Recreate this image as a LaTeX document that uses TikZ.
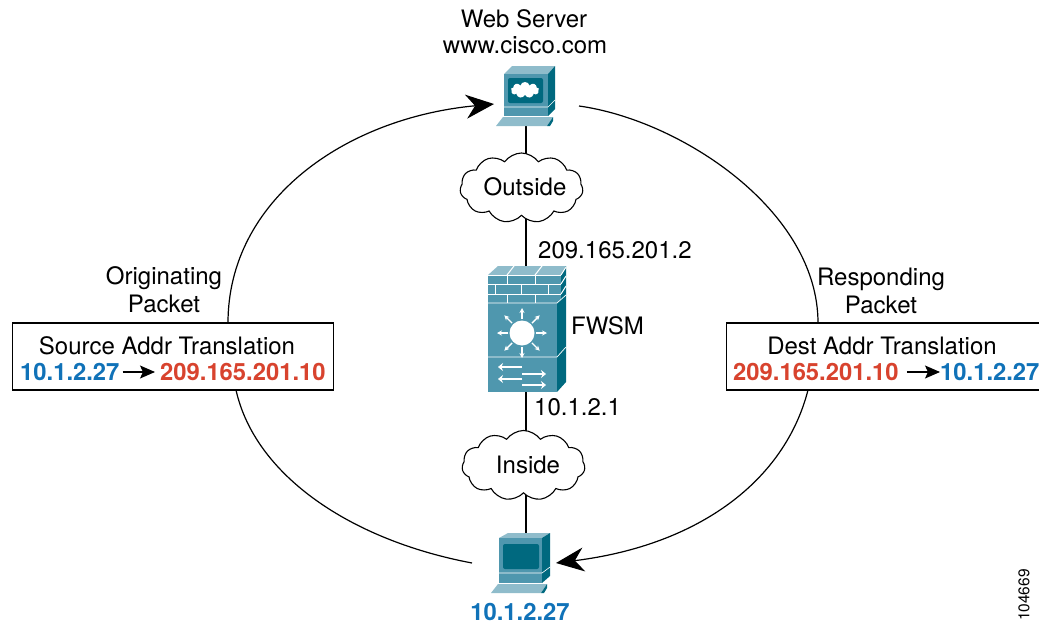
\documentclass[tikz,border=0pt]{standalone}
\usepackage{fontspec}
\setmainfont{TeX Gyre Heros}
\usetikzlibrary{arrows.meta,shapes.symbols}
\definecolor{addrblue}{HTML}{1072B8}
\definecolor{addrred}{HTML}{D8432E}
\definecolor{iconfront}{HTML}{4F97AE}
\definecolor{iconside}{HTML}{00697F}
\definecolor{icontop}{HTML}{8FBCCB}
\tikzset{
  lbl/.style={inner sep=0pt,font=\fontsize{24}{26}\selectfont},
  addr/.style={inner sep=0pt,font=\fontsize{23.8}{26}\selectfont\bfseries},
  netcloud/.style={cloud,cloud puffs=11,cloud puff arc=110,aspect=1.75,draw=black,fill=white,line width=1.1pt,inner sep=0pt,minimum width=123pt,minimum height=70pt},
  xlatebox/.style={draw=black,fill=white,line width=1.4pt,inner sep=0pt,minimum width=321pt,minimum height=67pt},
  wire/.style={line width=1.2pt},
  flow/.style={line width=1.2pt},
  flowhead/.style={line width=1.2pt,-{Stealth[length=28pt,width=24pt,inset=9pt]}},
  smallhead/.style={line width=1.1pt,-{Stealth[length=15pt,width=13pt,inset=3pt]}},
  hold/.style={inner sep=0pt,minimum width=60pt},
  brick/.style={white,line width=1pt},
  swarrow/.style={white,line width=2.8pt,-{Stealth[length=5pt,width=8pt]}}
}
\begin{document}
\begin{tikzpicture}[x=1pt,y=-1pt]
  \useasboundingbox(0,0)rectangle(1039,624);
  \node[hold,minimum height=60pt](web)at(526,96){};
  \node[hold,minimum height=126pt](fwsm)at(526,329){};
  \node[hold,minimum height=60pt](host)at(526,563){};
  \coordinate(outmid)at(526,188);
  \coordinate(inmid)at(526,465);
  \draw[wire](web.south)--(outmid)--(fwsm.north);
  \draw[wire](fwsm.south)--(inmid)--(host.north);
  \node[netcloud](outside)at(521.5,188){};
  \node[netcloud](inside)at(523.5,465.5){};
  \node[lbl](outlbl)at(525,187){Outside};
  \node[lbl](inlbl)at(528,465){Inside};
  \coordinate(upl)at(228,323);
  \coordinate(webin)at(494,104);
  \coordinate(webout)at(579,106);
  \coordinate(upr)at(818,323);
  \coordinate(lol)at(236,390);
  \coordinate(hostout)at(472,563);
  \coordinate(lor)at(808,390);
  \coordinate(hostin)at(556,563);
  \draw[flowhead](upl)..controls(228,200)and(345,118)..(webin);
  \draw[flow](webout)..controls(680,120)and(818,210)..(upr);
  \draw[flow](lol)..controls(255,475)and(350,540)..(hostout);
  \draw[flowhead](lor)..controls(785,480)and(700,545)..(hostin);
  \fill[icontop](504,74)--(512,66)--(555,66)--(548,74)--cycle;
  \fill[iconfront](504,74)rectangle(548,116);
  \fill[iconside](548,74)--(555,66)--(555,109)--(548,116)--cycle;
  \draw[white,line width=.6pt](504,107)--(548,107)--(555,100);
  \fill[iconside,rounded corners=2pt](508,78)rectangle(543,103);
  \node[cloud,cloud puffs=9,aspect=1.8,fill=white,inner sep=0pt,minimum width=28pt,minimum height=16pt](webscreen)at(525,90){};
  \fill[icontop](496,126)--(503,117)--(553,117)--(547,126)--cycle;
  \fill[iconside](547,126)--(553,117)--(553,121)--(550,126)--cycle;
  \fill[icontop](488,275)--(498,266)--(566,266)--(561,275)--cycle;
  \fill[iconfront](488,275)rectangle(561,303);
  \fill[iconfront](488,303)rectangle(557,392);
  \fill[iconside](561,275)--(566,266)--(566,295)--(557,303)--(561,303)--cycle;
  \fill[iconside](557,303)--(566,295)--(566,382)--(557,392)--cycle;
  \draw[white,line width=.7pt](488,303)--(557,303)--(566,295);
  \draw[white,line width=.7pt](488,357)--(557,357)--(566,347);
  \foreach\y in{275,284,294}\draw[brick](488,\y)--(561,\y);
  \foreach\x in{507,535}\draw[brick](\x,275)--(\x,284)(\x,294)--(\x,303);
  \foreach\x in{495,521,548}\draw[brick](\x,284)--(\x,294);
  \foreach\x in{507,535}\draw[brick](\x,275)--(\x+7,266);
  \foreach\y in{275,284,294}\draw[brick](561,\y)--(566,\y-8);
  \fill[white](522,333)circle(12.5);
  \foreach\a in{0,45,...,315}\draw[white,line width=1.4pt,-{Stealth[length=5pt,width=5pt]}](522,333)++(\a:14)--++(\a:11);
  \draw[swarrow](522,367)--(498,367);
  \draw[swarrow](522,379)--(498,379);
  \draw[swarrow](522,374)--(546,374);
  \draw[swarrow](522,385)--(546,385);
  \fill[icontop](499,538)--(508,533)--(550,533)--(542,538)--cycle;
  \fill[iconfront](499,538)rectangle(542,583);
  \fill[iconside](542,538)--(550,533)--(550,576)--(542,583)--cycle;
  \draw[white,line width=.6pt](499,573)--(542,573)--(550,567);
  \fill[iconside,rounded corners=2pt](503,544)rectangle(539,569);
  \fill[icontop](491,593)--(498,584)--(547,584)--(541,593)--cycle;
  \fill[iconside](541,593)--(547,584)--(547,588)--(544,593)--cycle;
  \node[lbl](webname)at(524,19){Web Server};
  \node[lbl](weburl)at(525,45){www.cisco.com};
  \node[lbl,anchor=west](outaddr)at(538,250){209.165.201.2};
  \node[lbl,anchor=west](fwname)at(571,326){FWSM};
  \node[lbl,anchor=west](inaddr)at(534,407){10.1.2.1};
  \node[addr,text=addrblue](hostaddr)at(520,612){10.1.2.27};
  \node[lbl](orig1)at(164,278){Originating};
  \node[lbl](orig2)at(164,304){Packet};
  \node[lbl](resp1)at(881,279){Responding};
  \node[lbl](resp2)at(881,305){Packet};
  \node[xlatebox](srcbox)at(173,356.5){};
  \node[xlatebox,anchor=west](dstbox)at(726,356.5){};
  \node[lbl](srctitle)at(167,346){Source Addr Translation};
  \node[lbl](dsttitle)at(882,346){Dest Addr Translation};
  \node[addr,text=addrblue,anchor=west](src1)at(20,372){10.1.2.27};
  \node[addr,text=addrred,anchor=west](src2)at(160,372){209.165.201.10};
  \node[addr,text=addrred,anchor=west](dst1)at(733,372){209.165.201.10};
  \node[addr,text=addrblue,anchor=west](dst2)at(940,372){10.1.2.27};
  \draw[smallhead]([xshift=3pt]src1.east)--([xshift=-5pt]src2.west);
  \draw[smallhead]([xshift=8pt]dst1.east)--(dst2.west);
  \node[inner sep=0pt,rotate=90,font=\fontsize{15.5}{17}\selectfont](figid)at(1024,595){104669};
\end{tikzpicture}
\end{document}
